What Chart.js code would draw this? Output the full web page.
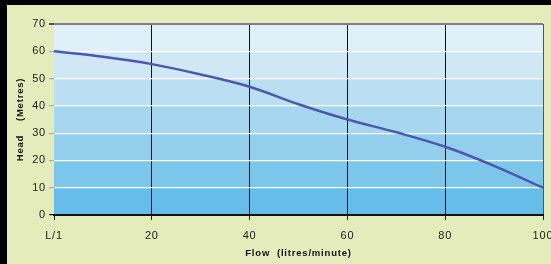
<!DOCTYPE html>
<html>
<head>
<meta charset="utf-8">
<script src="https://cdn.jsdelivr.net/npm/chart.js@4"></script>
<style>
    html, body { margin: 0; padding: 0; background: #000; }
    .frame {
        width: 544px; height: 259px;
        border-left: 7px solid #000; border-top: 5px solid #000;
        background: #e3ecba;
    }
    canvas { display: block; }
</style>
</head>
<body>
<div class="frame"><canvas id="pumpChart" width="544" height="259"></canvas></div>
<script>
// --- DATA ---
const flowValues = [0, 10, 20, 30, 40, 50, 60, 70, 80, 90, 100];
const headValues = [60, 58, 55.3, 51.5, 47, 40.6, 35, 30.3, 25, 18, 10];
const xTickLabels = ['L/1', '20', '40', '60', '80', '100'];
const yTicks = [0, 10, 20, 30, 40, 50, 60, 70];
// band shades, bottom (0-10) to top (60-70)
const bandColors = ['#66bde9', '#7dc6eb', '#93cfed', '#a7d7f0', '#badff2', '#d0e8f5', '#dff0f9'];

// fills each 10 m band with its own blue, behind the grid
const bandsPlugin = {
    id: 'bands',
    beforeDraw(chart) {
        const { ctx, chartArea, scales } = chart;
        ctx.save();
        for (let i = 0; i < yTicks.length - 1; i++) {
            const yTop = scales.y.getPixelForValue(yTicks[i + 1]);
            const yBot = scales.y.getPixelForValue(yTicks[i]);
            ctx.fillStyle = bandColors[i];
            ctx.fillRect(chartArea.left, yTop, chartArea.right - chartArea.left, yBot - yTop);
        }
        ctx.restore();
        // axis titles in the original are a bit spaced out
        ctx.letterSpacing = '0.8px';
    },
    afterDraw(chart) {
        chart.ctx.letterSpacing = '0px';
    }
};

const tickFont = { family: "'Liberation Sans', Arial, sans-serif", size: 11 };
const titleFont = { family: "'Liberation Sans', Arial, sans-serif", size: 9.5, weight: 'bold' };

new Chart(document.getElementById('pumpChart'), {
    type: 'line',
    data: {
        datasets: [{
            data: flowValues.map((f, i) => ({ x: f, y: headValues[i] })),
            borderColor: '#4b58ad',
            borderWidth: 2.5,
            pointRadius: 0,
            tension: 0.25,
            cubicInterpolationMode: 'monotone',
            fill: false
        }]
    },
    options: {
        responsive: false,
        animation: false,
        layout: { padding: { top: 19, right: 8, left: 0, bottom: 0 } },
        plugins: { legend: { display: false }, tooltip: { enabled: false } },
        scales: {
            x: {
                type: 'linear',
                min: 0, max: 100,
                afterFit: s => { s.height = 49; s.paddingLeft = 0; s.paddingRight = 0; },
                border: { display: true, color: '#111', width: 2 },
                grid: {
                    color: c => c.tick.value === 0 ? 'rgba(0,0,0,0)' : (c.tick.value === 100 ? '#555' : '#111'),
                    tickColor: '#222',
                    tickLength: 5,
                    lineWidth: 1
                },
                ticks: {
                    stepSize: 20,
                    color: '#222',
                    font: tickFont,
                    padding: 9,
                    maxRotation: 0,
                    callback: (v, i) => xTickLabels[i]
                },
                title: {
                    display: true,
                    text: 'Flow  (litres/minute)',
                    color: '#111',
                    font: titleFont,
                    padding: { top: 2, bottom: 5 }
                }
            },
            y: {
                min: 0, max: 70,
                afterFit: s => { s.width = 47; s.paddingTop = 0; s.paddingBottom = 0; },
                border: { display: false },
                grid: {
                    color: c => c.tick.value === 70 ? '#808080' : (c.tick.value === 0 ? '#111' : '#ffffff'),
                    lineWidth: c => (c.tick.value === 70 ? 2 : 1.2),
                    tickColor: c => c.tick.value === 0 ? '#111' : (c.tick.value === 70 ? '#555' : '#aaa'),
                    tickLength: 5
                },
                ticks: {
                    stepSize: 10,
                    color: '#222',
                    font: tickFont,
                    padding: 3
                },
                title: {
                    display: true,
                    text: 'Head    (Metres)',
                    color: '#111',
                    font: titleFont,
                    padding: { top: 8, bottom: 4 }
                }
            }
        }
    },
    plugins: [bandsPlugin]
});
</script>
</body>
</html>
